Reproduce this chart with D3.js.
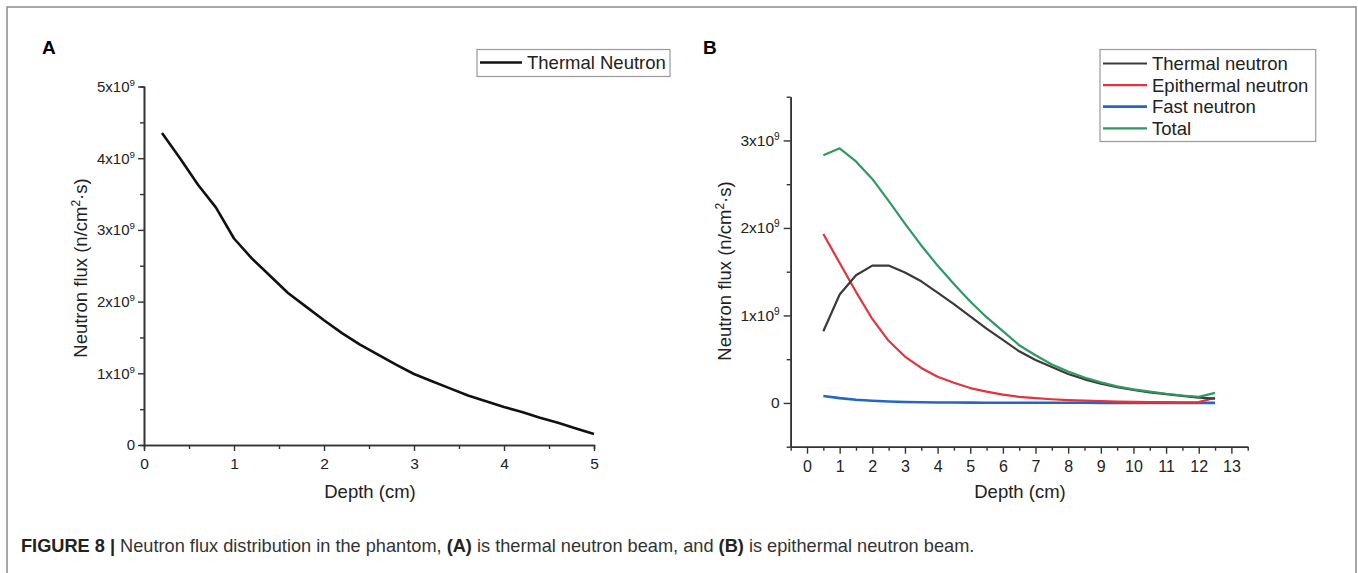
<!DOCTYPE html>
<html>
<head>
<meta charset="utf-8">
<script src="https://cdn.jsdelivr.net/npm/d3@7/dist/d3.min.js"></script>
<style>
  html, body { margin: 0; padding: 0; background: #fff; }
  svg { display: block; font-family: "Liberation Sans", Arial, sans-serif; }
</style>
</head>
<body>
<svg id="fig" width="1358" height="573"></svg>
<script>
// Panel A: thermal neutron beam (flux in units of 1e9 n/cm2.s)
const depthA = [0.2, 0.4, 0.6, 0.8, 1.0, 1.2, 1.4, 1.6, 1.8, 2.0, 2.2, 2.4, 2.6, 2.8, 3.0,
  3.2, 3.4, 3.6, 3.8, 4.0, 4.2, 4.4, 4.6, 4.8, 5.0];
const thermalA = [4.35, 4.0, 3.63, 3.31, 2.88, 2.6, 2.36, 2.12, 1.93, 1.74, 1.56, 1.4, 1.26, 1.12, 0.99,
  0.89, 0.79, 0.69, 0.61, 0.53, 0.46, 0.38, 0.31, 0.23, 0.155];

// Panel B: epithermal neutron beam
const depthB = [0.5, 1.0, 1.5, 2.0, 2.5, 3.0, 3.5, 4.0, 4.5, 5.0, 5.5, 6.0, 6.5, 7.0, 7.5,
  8.0, 8.5, 9.0, 9.5, 10.0, 10.5, 11.0, 11.5, 12.0, 12.5];
const thermalB = [0.82, 1.24, 1.46, 1.57, 1.57, 1.49, 1.39, 1.26, 1.13, 0.99, 0.85, 0.72, 0.59, 0.49, 0.41,
  0.33, 0.27, 0.22, 0.18, 0.15, 0.12, 0.10, 0.08, 0.06, 0.05];
const epithermalB = [1.93, 1.6, 1.27, 0.96, 0.71, 0.53, 0.4, 0.3, 0.23, 0.17, 0.13, 0.095, 0.07, 0.055, 0.042,
  0.033, 0.026, 0.02, 0.016, 0.013, 0.011, 0.009, 0.008, 0.01, 0.06];
const fastB = [0.08, 0.055, 0.037, 0.025, 0.016, 0.011, 0.008, 0.006, 0.005, 0.004, 0.003, 0.003, 0.002, 0.002, 0.002,
  0.002, 0.002, 0.001, 0.001, 0.001, 0.001, 0.001, 0.001, 0.001, 0.001];
const totalB = [2.83, 2.91, 2.76, 2.56, 2.31, 2.05, 1.8, 1.57, 1.36, 1.16, 0.98, 0.82, 0.66, 0.545, 0.44,
  0.36, 0.29, 0.235, 0.19, 0.155, 0.13, 0.105, 0.085, 0.07, 0.115];

const seriesNamesB = ['Thermal neutron', 'Epithermal neutron', 'Fast neutron', 'Total'];
const seriesColorsB = ['#3a3a3a', '#e2343c', '#2565c8', '#2f9a5f'];

const xTicksA = [0, 1, 2, 3, 4, 5];
const yTicksA = [0, 1, 2, 3, 4, 5];
const xTicksB = d3.range(0, 14);
const yTicksB = [0, 1, 2, 3];

const svg = d3.select('#fig');
const axisColor = '#333';

// outer frame
svg.append('rect').attr('x', 7).attr('y', 7).attr('width', 1349).attr('height', 600)
  .attr('fill', 'none').attr('stroke', '#8a8a8a').attr('stroke-width', 1.5);

// tick label with superscript exponent
function powLabel(sel, fs) {
  sel.selectAll('.tick text').each(function (d) {
    const t = d3.select(this);
    t.text(null);
    if (d === 0) { t.text('0'); return; }
    t.append('tspan').text(`${d}x10`);
    t.append('tspan').attr('dy', -fs * 0.4).attr('font-size', fs * 0.65).text('9');
  });
}

function styleAxis(sel, fs) {
  sel.select('.domain').attr('stroke', axisColor).attr('stroke-width', 1.6);
  sel.selectAll('.tick line').attr('stroke', axisColor).attr('stroke-width', 1.4);
  sel.selectAll('.tick text').attr('fill', '#222').attr('font-size', fs)
    .attr('font-family', '"Liberation Sans", Arial, sans-serif');
}

function yTitle(x, y, fs) {
  const t = svg.append('text').attr('transform', `translate(${x},${y}) rotate(-90)`)
    .attr('text-anchor', 'middle').attr('font-size', fs).attr('fill', '#222');
  t.append('tspan').text('Neutron flux (n/cm');
  t.append('tspan').attr('dy', -fs * 0.4).attr('font-size', fs * 0.65).text('2');
  t.append('tspan').attr('dy', fs * 0.4).text('·s)');
}

// ---------- Panel A ----------
const xA = d3.scaleLinear().domain([0, 5]).range([144, 594]);
const yA = d3.scaleLinear().domain([0, 5]).range([445, 86.5]);

svg.append('text').attr('x', 42).attr('y', 54).attr('font-size', 19).attr('font-weight', 'bold').text('A');

const gAyMinor = svg.append('g').attr('transform', `translate(${xA(0)},0)`)
  .call(d3.axisLeft(yA).tickValues([0.5, 1.5, 2.5, 3.5, 4.5]).tickSize(4).tickFormat(''));
styleAxis(gAyMinor, 14);
const gAy = svg.append('g').attr('transform', `translate(${xA(0)},0)`)
  .call(d3.axisLeft(yA).tickValues(yTicksA).tickSize(6).tickSizeOuter(0).tickPadding(3));
styleAxis(gAy, 15);
powLabel(gAy, 15);

const gAxMinor = svg.append('g').attr('transform', `translate(0,${yA(0)})`)
  .call(d3.axisBottom(xA).tickValues([0.5, 1.5, 2.5, 3.5, 4.5]).tickSize(4).tickFormat(''));
styleAxis(gAxMinor, 14);
const gAx = svg.append('g').attr('transform', `translate(0,${yA(0)})`)
  .call(d3.axisBottom(xA).tickValues(xTicksA).tickFormat(d3.format('d'))
    .tickSize(6).tickSizeOuter(0).tickPadding(7));
styleAxis(gAx, 15.5);

svg.append('path').datum(depthA.map((d, i) => [d, thermalA[i]]))
  .attr('d', d3.line().x((d) => xA(d[0])).y((d) => yA(d[1])))
  .attr('fill', 'none').attr('stroke', '#111').attr('stroke-width', 2.6).attr('stroke-linejoin', 'round');

svg.append('text').attr('x', (xA(0) + xA(5)) / 2 + 1).attr('y', 498).attr('text-anchor', 'middle')
  .attr('font-size', 18.5).attr('fill', '#222').text('Depth (cm)');
yTitle(87, 268, 18.5);

// legend A
svg.append('rect').attr('x', 477).attr('y', 49.5).attr('width', 193).attr('height', 27)
  .attr('fill', '#fff').attr('stroke', '#999').attr('stroke-width', 1.2);
svg.append('line').attr('x1', 480).attr('x2', 522).attr('y1', 62.5).attr('y2', 62.5)
  .attr('stroke', '#111').attr('stroke-width', 2.6);
svg.append('text').attr('x', 527).attr('y', 69).attr('font-size', 18.5).attr('fill', '#222').text('Thermal Neutron');

// ---------- Panel B ----------
const xB = d3.scaleLinear().domain([-0.5, 13.5]).range([790.7, 1247.7]);
const yB = d3.scaleLinear().domain([-0.5, 3.5]).range([446.7, 96.7]);

svg.append('text').attr('x', 703).attr('y', 54).attr('font-size', 19).attr('font-weight', 'bold').text('B');

const gByMinor = svg.append('g').attr('transform', `translate(${xB(-0.5)},0)`)
  .call(d3.axisLeft(yB).tickValues([-0.5, 0.5, 1.5, 2.5, 3.5]).tickSize(4).tickSizeOuter(0).tickFormat(''));
styleAxis(gByMinor, 14);
const gBy = svg.append('g').attr('transform', `translate(${xB(-0.5)},0)`)
  .call(d3.axisLeft(yB).tickValues(yTicksB).tickSize(7).tickSizeOuter(0).tickPadding(4));
styleAxis(gBy, 15.5);
powLabel(gBy, 15.5);

const gBxMinor = svg.append('g').attr('transform', `translate(0,${yB(-0.5)})`)
  .call(d3.axisBottom(xB).tickValues(d3.range(-0.5, 14, 1)).tickSize(4).tickSizeOuter(0).tickFormat(''));
styleAxis(gBxMinor, 14);
const gBx = svg.append('g').attr('transform', `translate(0,${yB(-0.5)})`)
  .call(d3.axisBottom(xB).tickValues(xTicksB).tickFormat(d3.format('d'))
    .tickSize(7).tickSizeOuter(0).tickPadding(7));
styleAxis(gBx, 16);

const seriesB = [thermalB, epithermalB, fastB, totalB];
const lineB = d3.line().x((d) => xB(d[0])).y((d) => yB(d[1]));
[2, 1, 0, 3].forEach((k) => {
  svg.append('path').datum(depthB.map((d, i) => [d, seriesB[k][i]]))
    .attr('d', lineB).attr('fill', 'none').attr('stroke', seriesColorsB[k])
    .attr('stroke-width', k === 2 ? 2.6 : 2.2).attr('stroke-linejoin', 'round');
});

svg.append('text').attr('x', 1020).attr('y', 498).attr('text-anchor', 'middle')
  .attr('font-size', 18.5).attr('fill', '#222').text('Depth (cm)');
yTitle(731, 271, 18.5);

// legend B
svg.append('rect').attr('x', 1100).attr('y', 49.5).attr('width', 215.7).attr('height', 92)
  .attr('fill', '#fff').attr('stroke', '#999').attr('stroke-width', 1.2);
seriesNamesB.forEach((name, i) => {
  const yy = 63.5 + i * 21.6;
  svg.append('line').attr('x1', 1103).attr('x2', 1147).attr('y1', yy).attr('y2', yy)
    .attr('stroke', seriesColorsB[i]).attr('stroke-width', i === 2 ? 2.8 : 2.2);
  svg.append('text').attr('x', 1152).attr('y', yy + 6.5).attr('font-size', 18.5).attr('fill', '#222').text(name);
});

// caption
const cap = svg.append('text').attr('x', 21).attr('y', 552).attr('font-size', 18.2).attr('fill', '#333');
cap.append('tspan').attr('font-weight', 'bold').attr('fill', '#222').text('FIGURE 8');
cap.append('tspan').attr('font-weight', 'bold').attr('fill', '#222').text(' | ');
cap.append('tspan').text('Neutron flux distribution in the phantom, ');
cap.append('tspan').attr('font-weight', 'bold').attr('fill', '#222').text('(A)');
cap.append('tspan').text(' is thermal neutron beam, and ');
cap.append('tspan').attr('font-weight', 'bold').attr('fill', '#222').text('(B)');
cap.append('tspan').text(' is epithermal neutron beam.');
</script>
</body>
</html>
